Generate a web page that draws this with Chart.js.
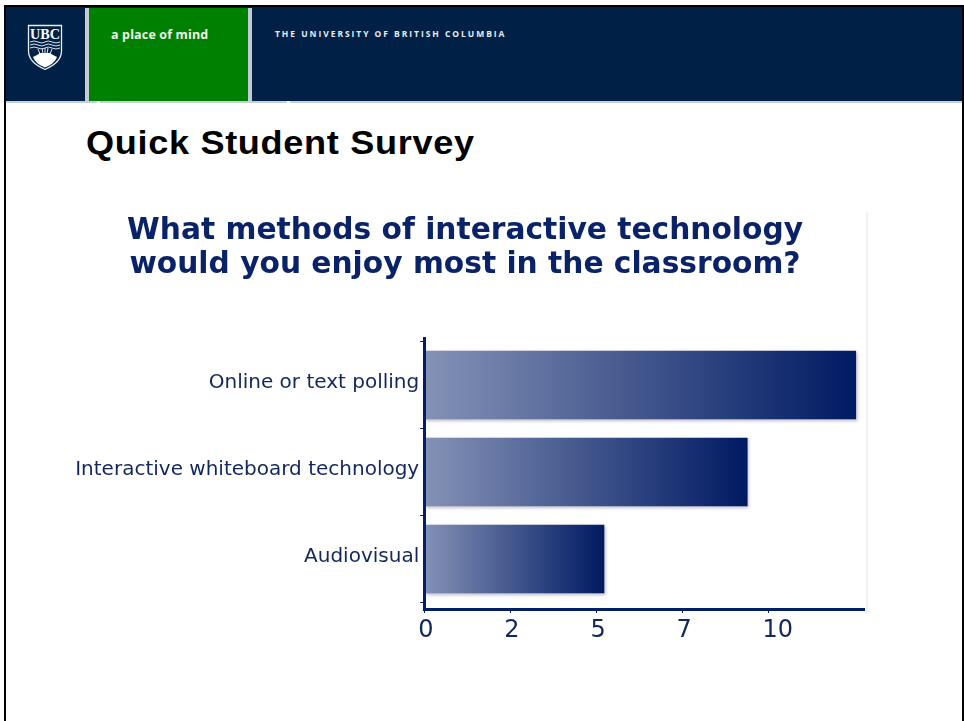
<!DOCTYPE html>
<html><head><meta charset="utf-8">
<script src="https://cdn.jsdelivr.net/npm/chart.js@4"></script>
<style>
html,body{margin:0;padding:0;background:#fff;width:964px;height:721px;overflow:hidden}
#stage{position:relative;width:964px;height:721px;overflow:hidden}
.a{position:absolute}
canvas{position:absolute;left:0;top:200px}
</style></head><body>
<div id="stage">
<div class="a" style="left:4px;top:5px;width:2px;height:716px;background:#000"></div>
<div class="a" style="left:4px;top:5px;width:960px;height:2px;background:#000"></div>
<div class="a" style="left:962px;top:5px;width:2px;height:716px;background:#000"></div>
<div class="a" style="left:6px;top:7px;width:956px;height:94px;background:#002145"></div>
<div class="a" style="left:6px;top:101px;width:956px;height:2px;background:#c3d0da"></div>
<div class="a" style="left:97px;top:101px;width:3px;height:2px;background:#fff"></div>
<div class="a" style="left:287px;top:101px;width:3px;height:2px;background:#fff"></div>
<div class="a" style="left:85px;top:8px;width:4px;height:93px;background:#c3ccd4"></div>
<div class="a" style="left:89px;top:8px;width:159px;height:93px;background:#008000"></div>
<div class="a" style="left:248px;top:8px;width:4px;height:93px;background:#c3ccd4"></div>
<svg class="a" style="left:27px;top:24px" width="36" height="47" viewBox="0 0 36 47">
<path d="M1.5 1.5H34.5V27C34.5 37 26 42 18 45.5C10 42 1.5 37 1.5 27Z" fill="#002145" stroke="#e8edf2" stroke-width="1.3"/>
<text x="18" y="14.5" text-anchor="middle" font-family="Liberation Serif" font-size="15.5" font-weight="bold" textLength="30" lengthAdjust="spacingAndGlyphs" fill="#fff">UBC</text>
<path d="M3 18Q7 16 11 18T18 18T25 18T33 18M3 21Q7 19 11 21T18 21T25 21T33 21M3 24Q7 22 11 24T18 24T25 24T33 24" stroke="#dde4ea" stroke-width="1" fill="none"/>
<path d="M11 25L13 30M15 24L16 30M18 24V30M21 24L20 30M25 25L23 30" stroke="#dde4ea" stroke-width="1"/>
<path d="M6 33L10 31L13 29H23L26 31L30 33C28 38 24 41 18 43.5C12 41 8 38 6 33Z" fill="#fff"/>
</svg>
<div class="a" style="left:111px;top:26px;font:bold 12.5px 'Open Sans';letter-spacing:.15px;color:#eef5ee;white-space:nowrap">a place of mind</div>
<div class="a" style="left:275px;top:28px;font:bold 8.5px 'Open Sans';letter-spacing:1.95px;color:#e8edf2;white-space:nowrap">THE UNIVERSITY OF BRITISH COLUMBIA</div>
<div class="a" style="left:86px;top:124px;font:bold 33px 'Liberation Sans';letter-spacing:.6px;color:#000;white-space:nowrap;transform-origin:0 0;transform:scaleX(1.095)">Quick Student Survey</div>
<div class="a" style="left:866px;top:212px;width:2px;height:400px;background:#f0f2f8"></div>
<canvas id="c" width="930" height="521"></canvas>
</div>
<script>
const categories = ["Online or text polling", "Interactive whiteboard technology", "Audiovisual"];
const values = [12.53, 9.38, 5.22];
const xTickValues = [0, 2.5, 5, 7.5, 10];
const xTickLabels = ["0", "2", "5", "7", "10"];
const titleLines = ["What methods of interactive technology", "would you enjoy most in the classroom?"];
const navy = "#001f66", ink = "#13275f";

const shadow = {
  id: "barShadow",
  beforeDatasetDraw(chart) {
    const c = chart.ctx; c.save();
    c.shadowColor = "rgba(60,60,90,.35)"; c.shadowBlur = 3; c.shadowOffsetX = 1.5; c.shadowOffsetY = 1.5;
  },
  afterDatasetDraw(chart) { chart.ctx.restore(); }
};

new Chart(document.getElementById("c"), {
  type: "bar",
  plugins: [shadow],
  data: { datasets: [{
    data: values.map((v, i) => ({ x: v, y: i })),
    barThickness: 68,
    borderSkipped: false,
    backgroundColor(ctx) {
      const { chart, parsed } = ctx;
      if (!parsed || !chart.chartArea) return navy;
      const xs = chart.scales.x;
      const g = chart.ctx.createLinearGradient(xs.getPixelForValue(0), 0, xs.getPixelForValue(parsed.x), 0);
      g.addColorStop(0, "#8492b6");
      g.addColorStop(1, "#001a63");
      return g;
    }
  }]},
  options: {
    indexAxis: "y",
    responsive: false,
    animation: false,
    devicePixelRatio: 1,
    layout: { padding: { left: 66, right: 66, top: 0, bottom: 0 } },
    plugins: {
      legend: { display: false },
      tooltip: { enabled: false },
      title: {
        display: true,
        text: titleLines,
        color: "#0a2268",
        font: { family: "DejaVu Sans", size: 29.7, weight: "bold", lineHeight: 1.145 },
        padding: { top: 14, bottom: 56 }
      }
    },
    scales: {
      x: {
        type: "linear", min: 0, max: 12.77,
        afterBuildTicks(s) { s.ticks = xTickValues.map(v => ({ value: v })); },
        afterFit(s) { s.height = 112; },
        grid: { drawOnChartArea: false, drawTicks: true, tickLength: 4, color: navy, tickColor: navy, lineWidth: 1 },
        border: { display: true, color: navy, width: 3, z: 1 },
        ticks: {
          color: ink, padding: 3, maxRotation: 0, align: "start", labelOffset: -6,
          font: { family: "DejaVu Sans", size: 24 },
          callback(v) { return xTickLabels[xTickValues.indexOf(v)]; }
        }
      },
      y: {
        type: "linear", reverse: true, min: -0.54, max: 2.575, offset: false,
        afterBuildTicks(s) { s.ticks = [-0.5, 0, 0.5, 1, 1.5, 2, 2.5].map(v => ({ value: v })); },
        afterFit(s) { s.width = 358.2; },
        grid: {
          offset: false,
          drawOnChartArea: false, tickLength: 4, lineWidth: 1, color: navy,
          tickColor(ctx) { return ctx.tick && Number.isInteger(ctx.tick.value) ? "rgba(0,0,0,0)" : navy; }
        },
        border: { display: true, color: navy, width: 3, z: 1 },
        ticks: {
          color: ink, padding: 1, autoSkip: false, labelOffset: -2,
          font: { family: "DejaVu Sans", size: 20 },
          callback(v) { return Number.isInteger(v) ? categories[v] : ""; }
        }
      }
    }
  }
});
</script>
</body></html>
